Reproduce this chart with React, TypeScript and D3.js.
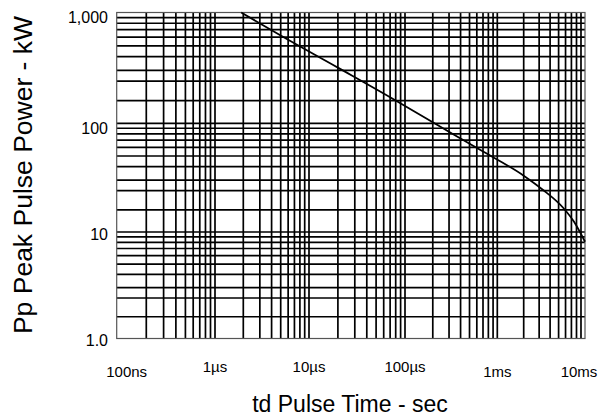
import React from "react";
import * as d3 from "d3";

// ---- data ----
const timeDecades = [1e-7, 1e-6, 1e-5, 1e-4, 1e-3, 1e-2];
const xTickLabels = ["100ns", "1\u00B5s", "10\u00B5s", "100\u00B5s", "1ms", "10ms"];
const xMinorMultipliers = [2, 3, 4, 5, 6, 7, 8, 9];

const powerDecades = [1, 10, 100, 1000];
const yTickLabels = ["1.0", "10", "100", "1,000"];
const yMinorMultipliers = [1.6, 2.4, 3, 4, 5, 6, 7, 8, 9];

// curve: pulse time (s) vs peak pulse power (kW)
const pulseTime = [1.9e-6, 5e-6, 2e-5, 7e-5, 2e-4, 6.5e-4, 2e-3, 3.3e-3, 5.6e-3, 7.5e-3, 1e-2];
const peakPower = [1000, 620, 318, 172, 102, 57, 33, 24.5, 16.8, 12.4, 8.1];

const xTitle = "td Pulse Time - sec";
const yTitle = "Pp Peak Pulse Power - kW";

// ---- layout ----
const W = 611;
const H = 418;
const FONT = "'Liberation Sans', Arial, sans-serif";

export default function App() {
  const x = d3.scaleLog().domain(timeDecades).range([116.7, 215, 309, 405, 497.3, 585]);
  const y = d3.scaleLog().domain(powerDecades).range([338.5, 232, 123.3, 12.5]);

  const [x0, x1] = [x(timeDecades[0]), x(timeDecades[timeDecades.length - 1])];
  const [y0, y1] = [y(powerDecades[0]), y(powerDecades[powerDecades.length - 1])];

  const xGrid: number[] = [];
  timeDecades.forEach((d, i) => {
    if (i > 0 && i < timeDecades.length - 1) xGrid.push(d);
    if (i < timeDecades.length - 1) xMinorMultipliers.forEach((m) => xGrid.push(d * m));
  });
  const yGrid: number[] = [];
  powerDecades.forEach((d, i) => {
    if (i > 0 && i < powerDecades.length - 1) yGrid.push(d);
    if (i < powerDecades.length - 1) yMinorMultipliers.forEach((m) => yGrid.push(d * m));
  });

  const line = d3
    .line<number>()
    .x((_, i) => x(pulseTime[i]))
    .y((_, i) => y(peakPower[i]))
    .curve(d3.curveMonotoneX);

  const xLabelDx = [10, 0, 0, 0, 0, -6];
  const yLabelDy = [3, 4, 6, 6];

  return (
    <svg
      width={W}
      height={H}
      style={{ position: "absolute", left: 0, top: 0, background: "#fff" }}
      fontFamily={FONT}
    >
      <rect x={0} y={0} width={W} height={H} fill="#fff" />
      <g stroke="#000" strokeWidth={1.7}>
        {xGrid.map((v, i) => (
          <line key={"x" + i} x1={x(v)} x2={x(v)} y1={y1} y2={y0} />
        ))}
        {yGrid.map((v, i) => (
          <line key={"y" + i} x1={x0} x2={x1} y1={y(v)} y2={y(v)} />
        ))}
      </g>
      <rect x={x0} y={y1} width={x1 - x0} height={y0 - y1} fill="none" stroke="#555" strokeWidth={1.2} />
      <path d={line(peakPower) || ""} fill="none" stroke="#000" strokeWidth={1.8} />

      {timeDecades.map((v, i) => (
        <text
          key={"xt" + i}
          x={x(v) + xLabelDx[i]}
          y={xTickLabels[i].includes("\u00B5") ? 372 : 377}
          textAnchor="middle"
          fontSize={15}
          fill="#000"
        >
          {xTickLabels[i]}
        </text>
      ))}
      {powerDecades.map((v, i) => (
        <text
          key={"yt" + i}
          x={108}
          y={y(v) + yLabelDy[i]}
          textAnchor="end"
          dominantBaseline="middle"
          fontSize={16}
          fill="#000"
        >
          {yTickLabels[i]}
        </text>
      ))}
      <text x={350} y={412} textAnchor="middle" fontSize={23} fill="#000">
        {xTitle}
      </text>
      <text
        transform={`translate(32, 175) rotate(-90)`}
        textAnchor="middle"
        fontSize={26.5}
        fill="#000"
      >
        {yTitle}
      </text>
    </svg>
  );
}
